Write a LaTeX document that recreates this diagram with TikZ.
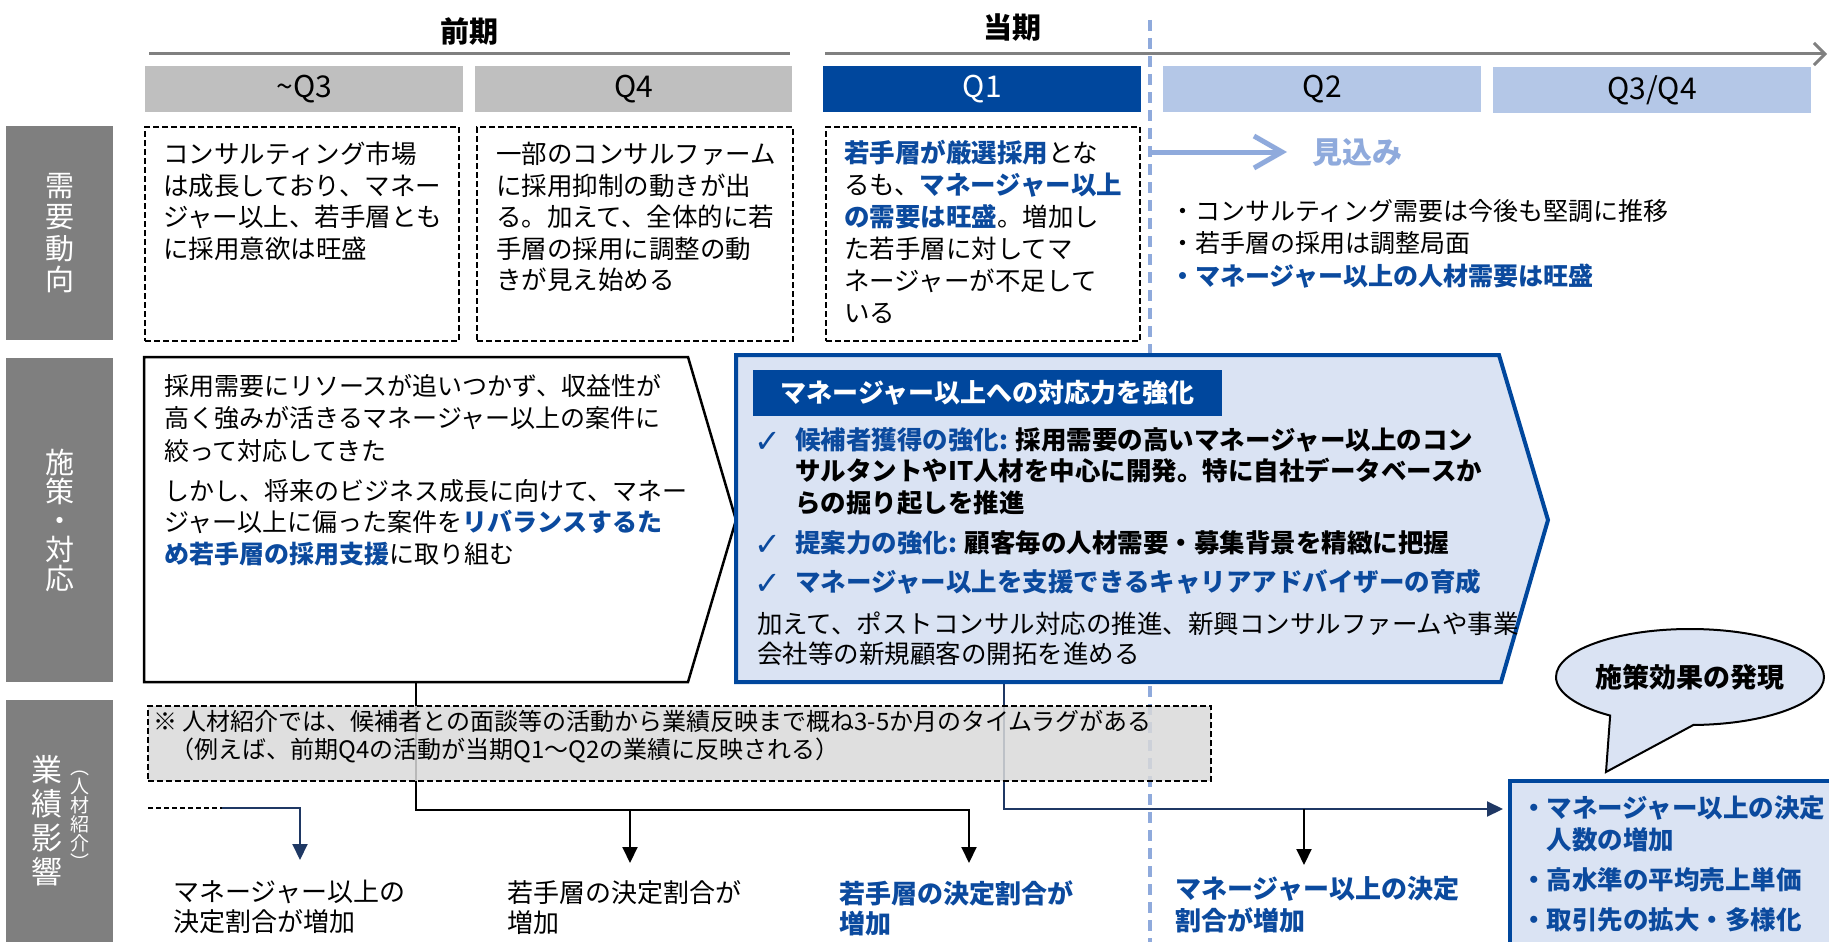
\documentclass[tikz,border=0pt]{standalone}
\usepackage{fontspec}
\setmainfont{Noto Sans CJK JP}
\newfontfamily\symfont{DejaVu Sans}
\usetikzlibrary{arrows.meta,shapes.callouts}
\definecolor{sidegray}{HTML}{7F7F7F}
\definecolor{qgray}{HTML}{BFBFBF}
\definecolor{qdark}{HTML}{00479D}
\definecolor{qlight}{HTML}{B4C7E7}
\definecolor{bluetext}{HTML}{0B4A9E}
\definecolor{lightfill}{HTML}{DAE3F3}
\definecolor{dashblue}{HTML}{8FAADC}
\definecolor{navy}{HTML}{1F3864}
\definecolor{grayfill}{HTML}{D9D9D9}
\definecolor{hdrgray}{HTML}{808080}
\newcommand\myfs[2]{\fontsize{#1}{#2}\selectfont}
\newcommand\hb[1]{\textcolor{bluetext}{\bfseries #1}}
\begin{document}
\begin{tikzpicture}[x=1pt,y=-1pt,
  conn/.style={line width=2pt, draw=black},
  tipA/.style={-{Triangle[length=16pt,width=15pt]}},
  txt/.style={anchor=north west, align=left, inner sep=0pt, font=\myfs{25.5}{31.5}},
  qbox/.style={anchor=north west, inner sep=0pt, minimum width=318pt, minimum height=46pt, font=\myfs{30}{30}},
  dbox/.style={anchor=north west, draw=black, line width=2pt, dash pattern=on 6pt off 3pt, minimum width=314pt, minimum height=214pt, inner sep=0pt},
  sbox/.style={anchor=north west, fill=sidegray, minimum width=107pt, minimum height=214pt, inner sep=0pt},
  stxt/.style={text=white, align=center, inner sep=0pt},
  hdrline/.style={draw=hdrgray, line width=3pt},
  chk/.style={text=bluetext, font=\symfont\myfs{32}{32}, inner sep=0pt},
]
\useasboundingbox (0,0) rectangle (1829,942);
\clip (0,0) rectangle (1829,942);

% ---------- header ----------
\node[font=\bfseries\myfs{29}{29}, inner sep=0pt] (zenki) at (469,31) {前期};
\node[font=\bfseries\myfs{29}{29}, inner sep=0pt] (toki) at (1012,28) {当期};
\coordinate (l1a) at (149,54); \coordinate (l1b) at (790,54);
\coordinate (l2a) at (825,54); \coordinate (l2b) at (1827,54);
\draw[hdrline] (l1a) -- (l1b);
\draw[hdrline, -{Straight Barb[length=11pt,width=22pt]}] (l2a) -- (l2b);

\node[qbox, fill=qgray] (q0) at (145,66) {\textasciitilde Q3};
\node[qbox, fill=qgray, minimum width=317pt] (q4) at (475,66) {Q4};
\node[qbox, fill=qdark, text=white] (qa) at (823,66) {Q1};
\node[qbox, fill=qlight] (qb) at (1163,66) {Q2};
\node[qbox, fill=qlight] (qc) at (1493,67) {Q3/Q4};

% ---------- vertical dashed divider ----------
\coordinate (vt) at (1150,20); \coordinate (vb) at (1150,942);
\draw[dashblue, line width=3.5pt, dash pattern=on 11pt off 7pt] (vt) -- (vb);

% ---------- side labels ----------
\node[sbox] (s1) at (6,126) {};
\node[stxt, font=\myfs{29}{31.5}] (s1t) at (s1.center) {需\\要\\動\\向};
\node[sbox, minimum height=324pt] (s2) at (6,358) {};
\node[stxt, font=\myfs{29}{29}] (s2t) at (s2.center) {施\\策\\・\\対\\応};
\node[sbox, minimum height=250pt] (s3) at (6,700) {};
\node[stxt, font=\myfs{31}{34}] (s3t) at (47,821) {業\\績\\影\\響};
\node[stxt, font=\myfs{19}{19}] (s3u) at (80,820) {︵\\人\\材\\紹\\介\\︶};

% ---------- row 1 ----------
\node[dbox] (b1) at (144,126) {};
\node[dbox, minimum width=316pt] (b2) at (476,126) {};
\node[dbox] (b3) at (825,126) {};
\node[txt] (t1) at (163,142) {コンサルティング市場\\は成長しており、マネー\\ジャー以上、若手層とも\\に採用意欲は旺盛};
\node[txt] (t2) at (496,142) {一部のコンサルファーム\\に採用抑制の動きが出\\る。加えて、全体的に若\\手層の採用に調整の動\\きが見え始める};
\node[txt, font=\myfs{25.5}{32}] (t3) at (844,140) {\hb{若手層が厳選採用}とな\\るも、\hb{マネージャー以上}\\\hb{の需要は旺盛}。増加し\\た若手層に対してマ\\ネージャーが不足して\\いる};

\coordinate (m0) at (1151,152); \coordinate (m1) at (1287,152);
\draw[dashblue, line width=5pt, -{Straight Barb[length=28pt,width=32pt]}] (m0) -- (m1);
\node[font=\bfseries\myfs{30}{30}, text=dashblue, inner sep=0pt] (mikomi) at (1357,153) {見込み};
\node[txt, font=\myfs{25}{32.5}] (blts) at (1170,199) {・コンサルティング需要は今後も堅調に推移\\・若手層の採用は調整局面\\\hb{・マネージャー以上の人材需要は旺盛}};

% ---------- connectors (under boxes) ----------
\coordinate (lpB) at (416,682);
\coordinate (j1) at (416,810);
\coordinate (a1) at (630,863);
\coordinate (a2) at (969,863);
\draw[conn, tipA] (lpB) -- (j1) -| (a2);
\draw[conn, tipA] (j1 -| a1) -- (a1);

\coordinate (rpB) at (1004,682);
\coordinate (j2) at (1004,809);
\coordinate (a3) at (1304,865);
\coordinate (rbW) at (1503,809);
\draw[conn, draw=navy, tipA] (rpB) -- (j2) -- (rbW);
\draw[conn, tipA] (j2 -| a3) -- (a3);

\coordinate (d0) at (148,808); \coordinate (d1) at (222,808); \coordinate (a0) at (300,860);
\draw[line width=2pt, dash pattern=on 5pt off 3pt] (d0) -- (d1);
\draw[conn, draw=navy, tipA] (d1) -| (a0);

% ---------- row 2 ----------
\draw[line width=2.5pt, fill=white, line join=miter] (144,357) coordinate (lp1) -- (688,357) -- (736,520) coordinate (lptip) -- (688,682) -- (144,682) -- cycle;
\draw[line width=4pt, draw=qdark, fill=lightfill, line join=miter] (736,355) coordinate (rp1) -- (1499,355) -- (1548,520) coordinate (rptip) -- (1501,682) -- (736,682) -- cycle;

\node[txt, font=\myfs{25}{32.5}] (p1) at (164,374) {採用需要にリソースが追いつかず、収益性が\\高く強みが活きるマネージャー以上の案件に\\絞って対応してきた};
\node[txt, font=\myfs{25}{31.5}] (p2) at (164,479) {しかし、将来のビジネス成長に向けて、マネー\\ジャー以上に偏った案件を\hb{リバランスするた}\\\hb{め若手層の採用支援}に取り組む};

\node[anchor=north west, fill=qdark, minimum width=469pt, minimum height=46pt, inner sep=0pt, text=white, font=\bfseries\myfs{26}{26}] (ttl) at (753,370) {マネージャー以上への対応力を強化};

\node[chk] (c1) at (768,442) {✓};
\node[chk] (c2) at (768,545) {✓};
\node[chk] (c3) at (768,584) {✓};
\node[txt, font=\bfseries\myfs{25.5}{31.5}] (i1) at (795,427) {\textcolor{bluetext}{候補者獲得の強化:} 採用需要の高いマネージャー以上のコン\\サルタントやIT人材を中心に開発。特に自社データベースか\\らの掘り起しを推進};
\node[txt, font=\bfseries\myfs{25.5}{31.5}] (i2) at (795,530) {\textcolor{bluetext}{提案力の強化:} 顧客毎の人材需要・募集背景を精緻に把握};
\node[txt, font=\bfseries\myfs{25.5}{31.5}, text=bluetext] (i3) at (795,569) {マネージャー以上を支援できるキャリアアドバイザーの育成};
\node[txt, font=\myfs{25.5}{30}] (i4) at (757,612) {加えて、ポストコンサル対応の推進、新興コンサルファームや事業\\会社等の新規顧客の開拓を進める};

% ---------- row 3 ----------
\node[anchor=north west, draw=black, line width=2pt, dash pattern=on 6pt off 3pt, fill=grayfill, fill opacity=0.85, draw opacity=1, minimum width=1063pt, minimum height=75pt, inner sep=0pt] (note) at (147,705) {};
\node[txt, font=\myfs{24}{28}] (n1) at (153,710) {※ 人材紹介では、候補者との面談等の活動から業績反映まで概ね3-5か月のタイムラグがある};
\node[txt, font=\myfs{24}{28}] (n2) at (170,738) {（例えば、前期Q4の活動が当期Q1～Q2の業績に反映される）};

\node[txt, font=\myfs{26}{30}] (e1) at (173,880) {マネージャー以上の\\決定割合が増加};
\node[txt, font=\myfs{26}{30}] (e2) at (507,880) {若手層の決定割合が\\増加};
\node[txt, font=\bfseries\myfs{26}{30}, text=bluetext] (e3) at (839,880) {若手層の決定割合が\\増加};
\node[txt, font=\bfseries\myfs{26}{32}, text=bluetext] (e4) at (1175,876) {マネージャー以上の決定\\割合が増加};

\node[anchor=north west, draw=qdark, line width=4pt, fill=lightfill, minimum width=400pt, minimum height=250pt, inner sep=0pt] (rbox) at (1508,779) {};
\node[txt, font=\bfseries\myfs{25.5}{32}, text=bluetext] (r1) at (1521,795) {・マネージャー以上の決定\\\phantom{・}人数の増加};
\node[txt, font=\bfseries\myfs{25.5}{40}, text=bluetext] (r2) at (1521,867) {・高水準の平均売上単価\\・取引先の拡大・多様化};

\node[ellipse callout, draw=black, line width=2pt, fill=lightfill, minimum width=268pt, minimum height=96pt, inner sep=0pt, callout absolute pointer={(1606,772)}, callout pointer arc=38, font=\bfseries\myfs{27}{27}] (bub) at (1690,677) {施策効果の発現};
\end{tikzpicture}
\end{document}
